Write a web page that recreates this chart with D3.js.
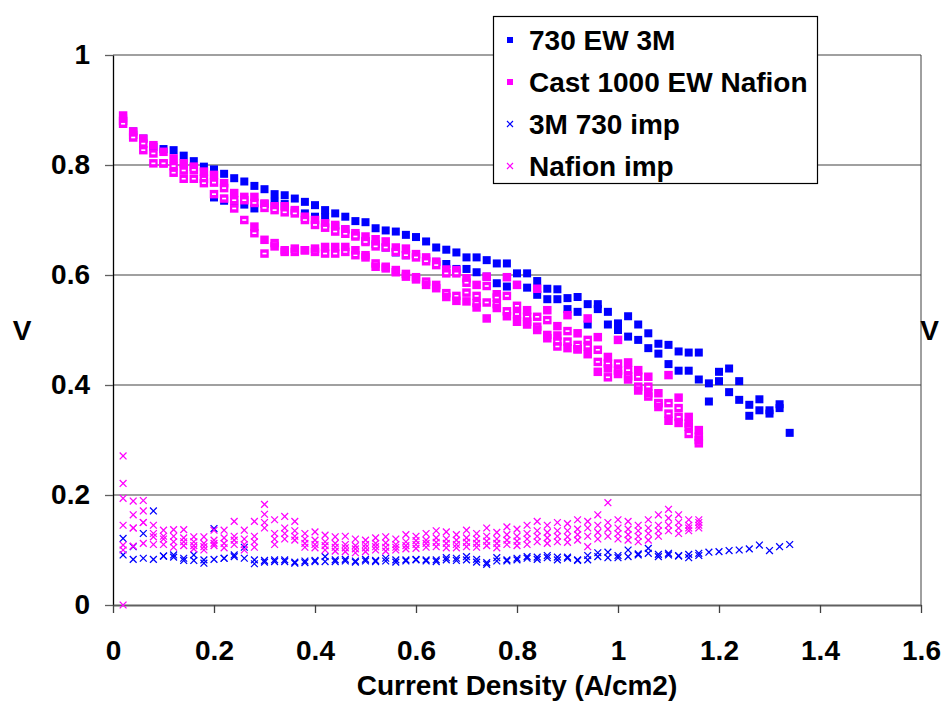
<!DOCTYPE html>
<html>
<head>
<meta charset="utf-8">
<script src="https://cdn.jsdelivr.net/npm/d3@7/dist/d3.min.js"></script>
<style>
  body { margin: 0; background: #fff; }
  text { font-family: "Liberation Sans", Arial, sans-serif; font-weight: bold; fill: #000; }
</style>
</head>
<body>
<div id="chart"></div>
<script>
// current density grid (A/cm2)
var current = [0.02, 0.04, 0.06, 0.08, 0.10, 0.12, 0.14, 0.16, 0.18, 0.20,
  0.22, 0.24, 0.26, 0.28, 0.30, 0.32, 0.34, 0.36, 0.38, 0.40,
  0.42, 0.44, 0.46, 0.48, 0.50, 0.52, 0.54, 0.56, 0.58, 0.60,
  0.62, 0.64, 0.66, 0.68, 0.70, 0.72, 0.74, 0.76, 0.78, 0.80,
  0.82, 0.84, 0.86, 0.88, 0.90, 0.92, 0.94, 0.96, 0.98, 1.00,
  1.02, 1.04, 1.06, 1.08, 1.10, 1.12, 1.14, 1.16, 1.18, 1.20,
  1.22, 1.24, 1.26, 1.28, 1.30, 1.32, 1.34];

// 730 EW 3M (V)
var ew730RunA = [0.885, 0.861, 0.848, 0.833, 0.829, 0.827, 0.817, 0.807, 0.797, 0.792,
  0.784, 0.776, 0.770, 0.762, 0.756, 0.747, 0.745, 0.739, 0.733, 0.727,
  0.718, 0.712, 0.706, 0.698, 0.696, 0.685, 0.681, 0.679, 0.673, 0.669,
  0.661, 0.650, 0.646, 0.641, 0.632, 0.632, 0.627, 0.621, 0.621, 0.603,
  0.603, 0.589, 0.575, 0.574, 0.558, 0.560, 0.547, 0.547, 0.533, 0.512,
  0.525, 0.510, 0.494, 0.475, 0.473, 0.461, 0.459, 0.459, 0.403, 0.424,
  0.430, 0.407, 0.364, 0.374, 0.354, 0.365, 0.313];
var ew730RunB = [null, null, null, null, null, null, null, null, null,
  0.741, 0.735, 0.730, 0.728, 0.721, 0.729, 0.733, 0.729, 0.716, 0.712,
  0.706, 0.705, 0.689, 0.683, 0.672, 0.662, 0.656, 0.650, 0.641, 0.636,
  0.636, 0.630, 0.624, 0.620, 0.611, 0.611, 0.605, 0.597, 0.585, 0.579,
  0.582, 0.577, 0.564, 0.556, 0.556, 0.538, 0.533, 0.510, 0.538, 0.510,
  0.500, 0.488, 0.482, 0.467, 0.457, 0.438, 0.426, 0.426, 0.410, 0.370,
  0.407, 0.387, 0.373, 0.344, 0.354, 0.348, 0.358];

// Cast 1000 EW Nafion (V)
var nafionRunA = [0.890, 0.861, 0.848, 0.836, 0.824, 0.812, 0.803, 0.797, 0.788, 0.782,
  0.767, 0.749, 0.742, 0.742, 0.730, 0.725, 0.725, 0.718, 0.706, 0.700,
  0.694, 0.691, 0.683, 0.676, 0.670, 0.665, 0.661, 0.650, 0.648, 0.638,
  0.632, 0.624, 0.610, 0.609, 0.594, 0.582, 0.597, 0.565, 0.596, 0.582,
  0.536, 0.575, 0.536, 0.507, 0.527, 0.494, 0.521, 0.487, 0.451, 0.482,
  0.441, 0.427, 0.415, 0.385, 0.418, 0.377, 0.342, 0.318];
var nafionRunB = [0.880, 0.855, 0.839, 0.821, 0.803, 0.798, 0.790, 0.791, 0.775, 0.768,
  0.758, 0.736, 0.736, 0.731, 0.722, 0.718, 0.714, 0.712, 0.700, 0.691,
  0.686, 0.679, 0.675, 0.670, 0.660, 0.652, 0.650, 0.642, 0.636, 0.632,
  0.625, 0.618, 0.603, 0.603, 0.586, 0.562, 0.580, 0.559, 0.562, 0.544,
  0.524, 0.524, 0.518, 0.479, 0.498, 0.473, 0.482, 0.464, 0.439, 0.439,
  0.427, 0.415, 0.397, 0.367, 0.367, 0.358, 0.324, 0.306];
var nafionRunC = [0.875, 0.850, 0.827, 0.803, 0.803, 0.786, 0.775, 0.775, 0.767, 0.747,
  0.739, 0.721, 0.700, 0.676, 0.639, 0.658, 0.642, 0.642, 0.645, 0.642,
  0.639, 0.639, 0.642, 0.636, 0.632, 0.621, 0.615, 0.609, 0.602, 0.596,
  0.588, 0.582, 0.567, 0.562, 0.568, 0.549, 0.550, 0.547, 0.534, 0.529,
  0.515, 0.506, 0.491, 0.470, 0.479, 0.465, 0.470, 0.442, 0.414, 0.426,
  0.416, 0.397, 0.379, 0.367, 0.348, 0.342, 0.311, 0.294];
var nafionRunD = [null, null, null, null, null, null, null, null, null, null, null, null, null,
  0.688, 0.664, 0.652, 0.645, 0.648, 0.645, 0.648, 0.651, 0.651, 0.651,
  0.645, 0.636, 0.615, 0.612, 0.605, 0.597, 0.592, 0.582, 0.576, 0.560,
  0.553, 0.552, 0.541, 0.521, 0.540, 0.525, 0.515, 0.510, 0.500, 0.485,
  0.490, 0.467, 0.465, 0.456, 0.424, 0.430, 0.420, 0.410, 0.390, 0.385,
  0.360, 0.335, 0.331, 0.330, 0.300];

// 3M 730 imp
var imp730RunA = [0.091, 0.083, 0.085, 0.083, 0.089, 0.091, 0.085, 0.091, 0.076, 0.083,
  0.085, 0.091, 0.085, 0.075, 0.081, 0.079, 0.082, 0.076, 0.077, 0.081,
  0.079, 0.082, 0.080, 0.078, 0.083, 0.081, 0.080, 0.082, 0.082, 0.083,
  0.082, 0.082, 0.082, 0.081, 0.082, 0.083, 0.077, 0.080, 0.082, 0.085,
  0.085, 0.087, 0.086, 0.087, 0.085, 0.082, 0.090, 0.088, 0.086, 0.090,
  0.088, 0.093, 0.094, 0.092, 0.091, 0.090, 0.092, 0.094, 0.096, 0.097,
  0.099, 0.100, 0.102, 0.109, 0.099, 0.106, 0.110];
var imp730RunB = [0.121, 0.106, 0.130, 0.171, 0.089, 0.087, 0.081, 0.081, 0.082, 0.139,
  0.085, 0.088, 0.105, 0.082, 0.078, 0.082, 0.079, 0.078, 0.080, 0.079,
  0.088, 0.079, 0.083, 0.080, 0.080, 0.079, 0.085, 0.078, 0.080, 0.082,
  0.080, 0.079, 0.086, 0.085, 0.088, 0.078, 0.074, 0.086, 0.080, 0.082,
  0.088, 0.083, 0.090, 0.082, 0.087, 0.081, 0.082, 0.095, 0.096, 0.086,
  0.100, 0.091, 0.103, 0.088, 0.094, 0.089, 0.086, 0.090];

// Nafion imp
var impNafionRunA = [0.271, 0.189, 0.190, 0.145, 0.136, 0.137, 0.137, 0.124, 0.124, 0.136,
  0.136, 0.152, 0.136, 0.152, 0.183, 0.155, 0.161, 0.152, 0.130, 0.133,
  0.127, 0.124, 0.125, 0.120, 0.118, 0.122, 0.124, 0.120, 0.128, 0.125,
  0.130, 0.135, 0.133, 0.128, 0.136, 0.130, 0.140, 0.132, 0.142, 0.138,
  0.145, 0.152, 0.145, 0.150, 0.148, 0.155, 0.152, 0.164, 0.186, 0.155,
  0.152, 0.145, 0.155, 0.164, 0.174, 0.164, 0.155, 0.155];
var impNafionRunB = [0.221, 0.164, 0.171, 0.124, 0.120, 0.125, 0.122, 0.115, 0.112, 0.118,
  0.122, 0.125, 0.120, 0.125, 0.165, 0.130, 0.140, 0.135, 0.120, 0.118,
  0.115, 0.112, 0.110, 0.108, 0.110, 0.112, 0.113, 0.110, 0.115, 0.117,
  0.118, 0.122, 0.120, 0.118, 0.122, 0.120, 0.125, 0.120, 0.128, 0.125,
  0.130, 0.135, 0.132, 0.135, 0.135, 0.138, 0.140, 0.145, 0.150, 0.140,
  0.138, 0.135, 0.140, 0.145, 0.158, 0.150, 0.145, 0.150];
var impNafionRunC = [0.109, 0.107, 0.112, 0.110, 0.110, 0.105, 0.108, 0.102, 0.100, 0.108,
  0.104, 0.110, 0.100, 0.105, 0.140, 0.110, 0.120, 0.118, 0.105, 0.104,
  0.100, 0.098, 0.097, 0.095, 0.097, 0.100, 0.098, 0.100, 0.102, 0.103,
  0.105, 0.106, 0.104, 0.104, 0.106, 0.105, 0.108, 0.104, 0.110, 0.108,
  0.110, 0.115, 0.112, 0.115, 0.114, 0.118, 0.106, 0.120, 0.125, 0.120,
  0.118, 0.115, 0.118, 0.125, 0.135, 0.130, 0.135, 0.140];
var impNafionRunD = [0.100, 0.140, 0.150, 0.130, 0.125, 0.115, 0.115, 0.108, 0.106, 0.112,
  0.112, 0.118, 0.110, 0.115, 0.150, 0.120, 0.130, 0.125, 0.112, 0.110,
  0.108, 0.105, 0.104, 0.102, 0.104, 0.106, 0.105, 0.105, 0.108, 0.110,
  0.112, 0.114, 0.112, 0.110, 0.114, 0.112, 0.116, 0.112, 0.118, 0.116,
  0.120, 0.125, 0.122, 0.125, 0.124, 0.128, 0.125, 0.132, 0.138, 0.130,
  0.128, 0.125, 0.130, 0.135, 0.145, 0.140, 0.140, 0.145];
var impNafionExtraI = [0.02, 0.02, 0.02, 0.04, 0.06];
var impNafionExtraV = [0.194, 0.145, 0.000, 0.140, 0.150];

var xTicks = [0, 0.2, 0.4, 0.6, 0.8, 1, 1.2, 1.4, 1.6];
var yTicks = [0, 0.2, 0.4, 0.6, 0.8, 1];
var legendNames = ["730 EW 3M", "Cast 1000 EW Nafion", "3M 730 imp", "Nafion imp"];

var blue = "#0000ff", magenta = "#ff00ff";

function toPoints(iv, vv) {
  var pts = [];
  vv.forEach(function(v, k) {
    if (v !== null && v !== undefined) pts.push({ i: iv[k], v: v });
  });
  return pts;
}

var W = 941, H = 701;
var svg = d3.select("#chart").append("svg")
  .attr("width", W)
  .attr("height", H);

var x = d3.scaleLinear().domain([0, 1.6]).range([113, 921]);
var y = d3.scaleLinear().domain([0, 1]).range([605, 55]);

// gridlines
svg.append("g")
  .selectAll("line")
  .data(yTicks.filter(d => d > 0))
  .enter().append("line")
  .attr("x1", x(0)).attr("x2", x(1.6))
  .attr("y1", d => y(d)).attr("y2", d => y(d))
  .attr("stroke", "#808080")
  .attr("stroke-width", 1.3);

// right frame
svg.append("line")
  .attr("x1", x(1.6)).attr("x2", x(1.6))
  .attr("y1", y(1)).attr("y2", y(0))
  .attr("stroke", "#404040")
  .attr("stroke-width", 1);

// y axis
var yAxis = svg.append("g")
  .attr("transform", "translate(" + x(0) + ",0)")
  .call(d3.axisLeft(y).tickValues(yTicks).tickSize(8).tickSizeOuter(0)
    .tickPadding(15).tickFormat(d3.format("")));
yAxis.select(".domain").attr("stroke", "#000").attr("stroke-width", 1.3);
yAxis.selectAll(".tick line").attr("stroke", "#606060").attr("stroke-width", 1.3);
yAxis.selectAll("text").style("font-size", "28px").attr("font-family", null);

// x axis
var xAxis = svg.append("g")
  .attr("transform", "translate(0," + y(0) + ")")
  .call(d3.axisBottom(x).tickValues(xTicks).tickSize(8).tickSizeOuter(0)
    .tickPadding(27).tickFormat(d3.format("")));
xAxis.select(".domain").attr("stroke", "#606060").attr("stroke-width", 2.2);
xAxis.selectAll(".tick line").attr("stroke", "#404040").attr("stroke-width", 1.3);
xAxis.selectAll("text").style("font-size", "28px").attr("font-family", null);

// axis titles
svg.append("text")
  .attr("x", 517).attr("y", 695)
  .attr("text-anchor", "middle")
  .style("font-size", "28px")
  .text("Current Density (A/cm2)");
svg.append("text")
  .attr("x", 22).attr("y", 340)
  .attr("text-anchor", "middle")
  .style("font-size", "28px")
  .text("V");
svg.append("text")
  .attr("x", 939).attr("y", 340)
  .attr("text-anchor", "end")
  .style("font-size", "28px")
  .text("V");

var plot = svg.append("g");

function drawSquares(pts, color, hollow, size) {
  var g = plot.append("g");
  g.selectAll("rect")
    .data(pts)
    .enter().append("rect")
    .attr("x", d => x(d.i) - size / 2)
    .attr("y", d => y(d.v) - size / 2)
    .attr("width", size)
    .attr("height", size)
    .attr("fill", color);
  if (hollow) {
    g.selectAll("rect.hole")
      .data(pts)
      .enter().append("rect")
      .attr("class", "hole")
      .attr("x", d => x(d.i) - 2)
      .attr("y", d => y(d.v) - 0.8)
      .attr("width", 4)
      .attr("height", 1.6)
      .attr("fill", "#fff");
  }
}

function crossPath(cx, cy, r) {
  return "M" + (cx - r) + "," + (cy - r) + "L" + (cx + r) + "," + (cy + r) +
    "M" + (cx - r) + "," + (cy + r) + "L" + (cx + r) + "," + (cy - r);
}

function drawCrosses(pts, color) {
  plot.append("g")
    .selectAll("path")
    .data(pts)
    .enter().append("path")
    .attr("d", d => crossPath(x(d.i), y(d.v), 3.4))
    .attr("stroke", color)
    .attr("stroke-width", 1.3)
    .attr("fill", "none");
}

drawSquares(toPoints(current, ew730RunA), blue, false, 8);
drawSquares(toPoints(current, ew730RunB), blue, false, 8);
drawSquares(toPoints(current, nafionRunA), magenta, false, 8.5);
drawSquares(toPoints(current, nafionRunB), magenta, true, 8.5);
drawSquares(toPoints(current, nafionRunC), magenta, true, 8.5);
drawSquares(toPoints(current, nafionRunD), magenta, false, 8.5);
drawCrosses(toPoints(current, imp730RunA), blue);
drawCrosses(toPoints(current, imp730RunB), blue);
drawCrosses(toPoints(current, impNafionRunA), magenta);
drawCrosses(toPoints(current, impNafionRunB), magenta);
drawCrosses(toPoints(current, impNafionRunC), magenta);
drawCrosses(toPoints(current, impNafionRunD), magenta);
drawCrosses(toPoints(impNafionExtraI, impNafionExtraV), magenta);

// legend
var legend = svg.append("g");
legend.append("rect")
  .attr("x", 493.5).attr("y", 16.5)
  .attr("width", 324).attr("height", 167)
  .attr("fill", "#fff")
  .attr("stroke", "#000")
  .attr("stroke-width", 1.2);
var legendKinds = [
  { color: blue, cross: false },
  { color: magenta, cross: false },
  { color: blue, cross: true },
  { color: magenta, cross: true }
];
legendNames.forEach(function(name, k) {
  var cy = 40 + k * 42;
  var kind = legendKinds[k];
  if (kind.cross) {
    legend.append("path")
      .attr("d", crossPath(510, cy, 3))
      .attr("stroke", kind.color)
      .attr("stroke-width", 1.2)
      .attr("fill", "none");
  } else {
    legend.append("rect")
      .attr("x", 507).attr("y", cy - 3)
      .attr("width", 6).attr("height", 6)
      .attr("fill", kind.color);
  }
  legend.append("text")
    .attr("x", 529).attr("y", cy + 10)
    .style("font-size", "28px")
    .text(name);
});
</script>
</body>
</html>
